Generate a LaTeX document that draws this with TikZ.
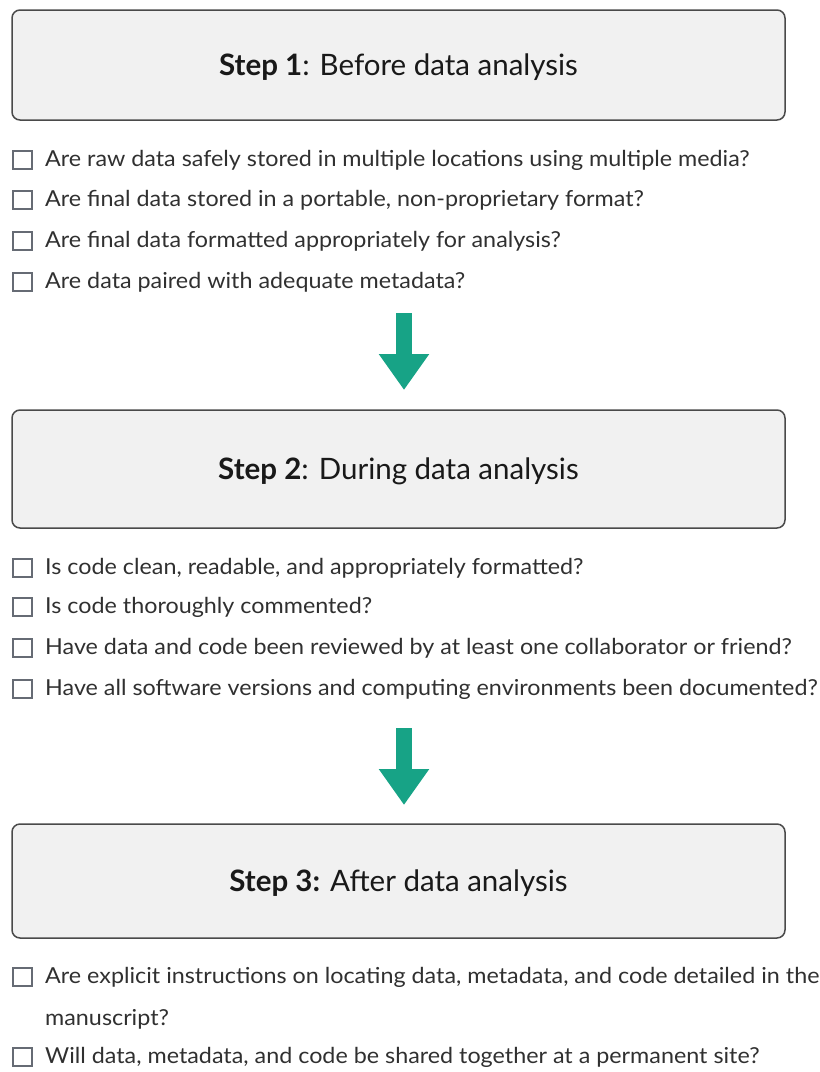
\documentclass[tikz,border=0pt]{standalone}
\usepackage{fontspec}
\setmainfont{Lato}
\newfontfamily\itemfont[FakeStretch=1.06]{Lato}
\usetikzlibrary{arrows.meta,positioning}
\definecolor{stepfill}{HTML}{F1F1F1}
\definecolor{stepline}{HTML}{4A4A4A}
\definecolor{arrowteal}{HTML}{17A386}
\definecolor{tickgray}{HTML}{666B74}
\definecolor{itemink}{HTML}{303030}

\begin{document}
\begin{tikzpicture}[x=1pt,y=-1pt,
  stepbox/.style={draw=stepline,line width=1.5pt,fill=stepfill,rounded corners=8pt,
    minimum width=773pt,text depth=0pt,font=\fontsize{29.5}{34}\selectfont,text=black!90},
  tickbox/.style={draw=tickgray,line width=2pt,minimum width=19pt,minimum height=18pt,inner sep=0pt},
  itemtext/.style={anchor=west,inner sep=0pt,font=\itemfont\fontsize{22}{26}\selectfont,text=itemink},
  downarrow/.style={draw=arrowteal,line width=16pt,-{Triangle[width=48pt,length=36pt]}}]
  \useasboundingbox (0,0) rectangle (820,1072);
  % the three steps
  \node[stepbox,minimum height=110pt] (step1) at (398.5,65) {\textbf{Step 1}: Before data analysis};
  \node[stepbox,minimum height=118pt] (step2) at (398.5,469) {\textbf{Step 2}: During data analysis};
  \node[stepbox,minimum height=114pt] (step3) at (398.5,881) {\textbf{Step 3:} After data analysis};
  % checklist under step 1
  \foreach \y/\q [count=\i] in {
      160/{Are raw data safely stored in multiple locations using multiple media?},
      200/{Are final data stored in a portable, non-proprietary format?},
      241/{Are final data formatted appropriately for analysis?},
      282/{Are data paired with adequate metadata?}} {
    \node[tickbox] (tickA\i) at (22,\y) {};
    \node[itemtext] (itemA\i) at (45,\y) {\q};
  }
  % checklist under step 2
  \foreach \y/\q [count=\i] in {
      568/{Is code clean, readable, and appropriately formatted?},
      607/{Is code thoroughly commented?},
      648/{Have data and code been reviewed by at least one collaborator or friend?},
      689/{Have all software versions and computing environments been documented?}} {
    \node[tickbox] (tickB\i) at (22,\y) {};
    \node[itemtext] (itemB\i) at (45,\y) {\q};
  }
  % checklist under step 3
  \node[tickbox] (tickC1) at (22,977) {};
  \node[itemtext] (itemC1) at (45,977) {Are explicit instructions on locating data, metadata, and code detailed in the};
  \node[itemtext] (itemC1b) at (45,1019) {manuscript?};
  \node[tickbox] (tickC2) at (22,1057) {};
  \node[itemtext] (itemC2) at (45,1057) {Will data, metadata, and code be shared together at a permanent site?};
  % arrows between steps
  \coordinate (arrowA) at (404,313);
  \coordinate (arrowAtip) at (404,390);
  \coordinate (arrowB) at (404,728);
  \coordinate (arrowBtip) at (404,805);
  \draw[downarrow] (arrowA) -- (arrowAtip);
  \draw[downarrow] (arrowB) -- (arrowBtip);
\end{tikzpicture}
\end{document}
